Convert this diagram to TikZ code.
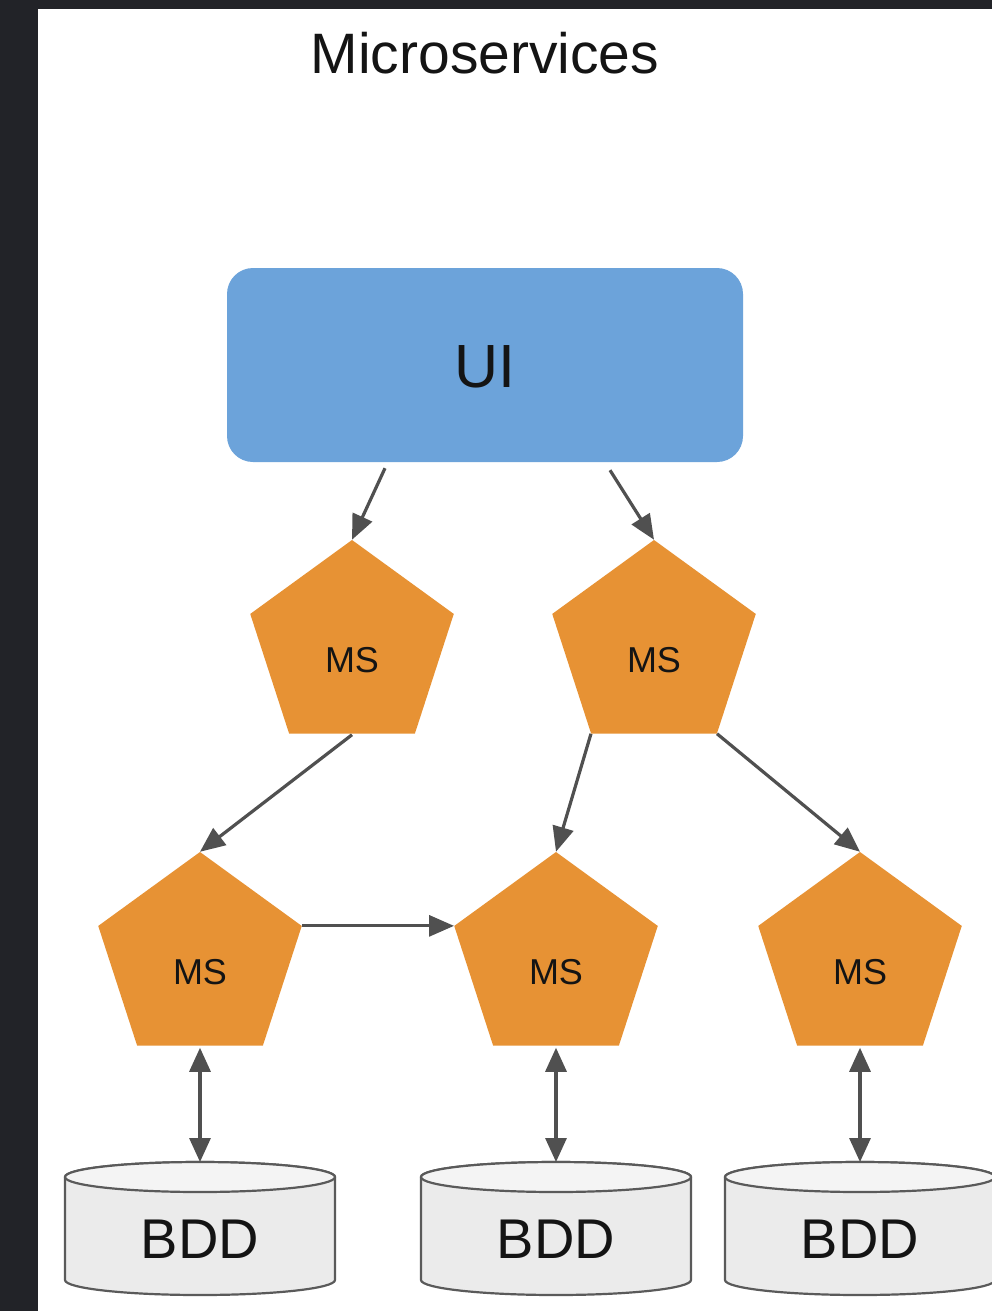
\documentclass[tikz,border=0pt]{standalone}
\usepackage{fontspec}
\setmainfont{Liberation Sans}
\usetikzlibrary{shapes.geometric,arrows.meta}
\definecolor{darkbg}{RGB}{34,35,40}
\definecolor{uiblue}{RGB}{108,163,218}
\definecolor{msorange}{RGB}{231,146,52}
\definecolor{arrowgray}{RGB}{80,80,80}
\definecolor{dbbody}{RGB}{235,235,235}
\definecolor{dbtop}{RGB}{244,244,244}
\definecolor{dbline}{RGB}{90,90,90}
\definecolor{txt}{RGB}{20,20,20}
\begin{document}
\begin{tikzpicture}[x=1pt,y=-1pt,
  ms/.style={regular polygon, regular polygon sides=5, minimum size=214pt, inner sep=0pt,
    fill=msorange, font=\fontsize{36}{40}\selectfont, text height=51pt, text depth=0pt, text=txt},
  conn/.style={draw=arrowgray, line width=3.2pt, -{Triangle[length=25pt,width=21pt]}},
  bidir/.style={draw=arrowgray, line width=3.2pt,
    {Triangle[length=24pt,width=21pt]}-{Triangle[length=24pt,width=21pt]}},
  dbnode/.style={rectangle, inner sep=0pt, minimum width=270pt, minimum height=133pt,
    anchor=north, font=\fontsize{56}{60}\selectfont, text height=59pt, text depth=0pt, text=txt},
  dbb/.style={fill=dbbody, draw=dbline, line width=2.2pt},
  dbt/.style={fill=dbtop, draw=dbline, line width=2.2pt}]
\useasboundingbox (0,0) rectangle (992,1311);
\fill[darkbg] (0,0) rectangle (992,1311);
\fill[white] (38,9) rectangle (992,1311);

\node[anchor=base, font=\fontsize{57}{60}\selectfont, text=txt] (title) at (485,74) {Microservices};

\node[fill=uiblue, rounded corners=26pt, minimum width=516pt, minimum height=194pt, inner sep=0pt,
  font=\fontsize{61}{64}\selectfont, text height=44pt, text depth=0pt, text=txt] (ui) at (485,365) {UI};

\node[ms] (ms1) at (352,647) {MS};
\node[ms] (ms2) at (654,647) {MS};
\node[ms] (ms3) at (200,959) {MS};
\node[ms] (ms4) at (556,959) {MS};
\node[ms] (ms5) at (860,959) {MS};

\foreach \i/\cx in {1/200,2/556,3/860}{
  \filldraw[dbb] (\cx-135,1177) -- (\cx-135,1280)
    arc[start angle=180,end angle=360,x radius=135pt,y radius=15pt]
    -- (\cx+135,1177)
    arc[start angle=0,end angle=180,x radius=135pt,y radius=15pt] -- cycle;
  \filldraw[dbt] (\cx,1177) ellipse[x radius=135pt,y radius=15pt];
  \node[dbnode] (db\i) at (\cx,1162) {BDD};
}

\draw[conn] ([xshift=-100pt,yshift=-6pt]ui.south) -- (ms1.corner 1);
\draw[conn] ([xshift=125pt,yshift=-8pt]ui.south) -- (ms2.corner 1);
\draw[conn] ([yshift=-1pt]ms1.side 3) -- (ms3.corner 1);
\draw[conn] (ms2.corner 3) -- (ms4.corner 1);
\draw[conn] (ms2.corner 4) -- (ms5.corner 1);
\draw[conn] (ms3.corner 5) -- (ms4.corner 2);
\draw[bidir] ([yshift=-2pt]ms3.side 3) -- (db1.north);
\draw[bidir] ([yshift=-2pt]ms4.side 3) -- (db2.north);
\draw[bidir] ([yshift=-2pt]ms5.side 3) -- (db3.north);
\end{tikzpicture}
\end{document}
